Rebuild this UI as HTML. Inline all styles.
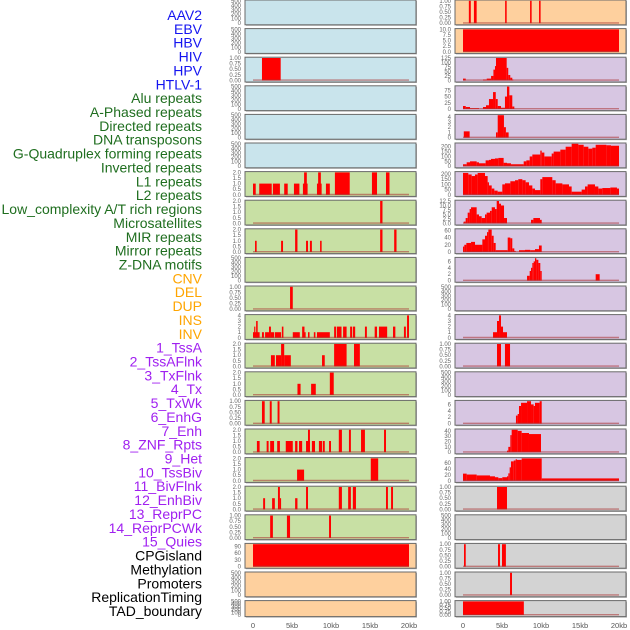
<!DOCTYPE html>
<html><head><meta charset="utf-8"><style>
html,body{margin:0;padding:0;background:#fff;}
svg{display:block;font-family:"Liberation Sans",sans-serif;}
</style></head><body>
<svg id="chart" width="630" height="630" viewBox="0 0 630 630" xmlns="http://www.w3.org/2000/svg"></svg>
<script>
// ---- data ----
const labelTexts = ["AAV2","EBV","HBV","HIV","HPV","HTLV-1","Alu repeats","A-Phased repeats","Directed repeats","DNA transposons","G-Quadruplex forming repeats","Inverted repeats","L1 repeats","L2 repeats","Low_complexity A/T rich regions","Microsatellites","MIR repeats","Mirror repeats","Z-DNA motifs","CNV","DEL","DUP","INS","INV","1_TssA","2_TssAFlnk","3_TxFlnk","4_Tx","5_TxWk","6_EnhG","7_Enh","8_ZNF_Rpts","9_Het","10_TssBiv","11_BivFlnk","12_EnhBiv","13_ReprPC","14_ReprPCWk","15_Quies","CPGisland","Methylation","Promoters","ReplicationTiming","TAD_boundary"];
const labelGroups = [0,0,0,0,0,0,1,1,1,1,1,1,1,1,1,1,1,1,1,2,2,2,2,2,3,3,3,3,3,3,3,3,3,3,3,3,3,3,3,4,4,4,4,4];
const xTicksKb = [0,5,10,15,20];
const xTickLabels = ["0","5kb","10kb","15kb","20kb"];
const T500 = [0,100,200,300,400,500];
const T1 = [0,0.25,0.5,0.75,1];
const T2 = [0,0.5,1,1.5,2];
const T4 = [0,1,2,3,4];
const leftBg = [0,0,0,0,0,0,1,1,1,1,1,1,1,1,1,1,1,1,1,2,2,2];
const rightBg = [2,2,3,3,3,3,3,3,3,3,3,3,3,3,3,3,3,4,4,4,4,4];
const leftMax = [500,500,1,500,500,500,2,2,2,500,1,4,2,2,1,2,2,2,1,100,500,500];
const rightMax = [1,10,125,90,4.3,230,215,12.5,62,7,500,4,1,500,7,42,75,1,500,1,1,1];
const leftTicks = [T500,T500,T1,T500,T500,T500,T2,T2,T2,T500,T1,T4,T2,T2,T1,T2,T2,T2,T1,[0,30,60,90],T500,T500];
const rightTicks = [T1,[0,2.5,5,7.5,10],[0,25,50,75,100,125],[0,25,50,75],T4,[0,50,100,150,200],[0,50,100,150,200],[0,2.5,5,7.5,10,12.5],[0,20,40,60],[0,2,4,6],T500,T4,T1,T500,[0,2,4,6],[0,10,20,30,40],[0,20,40,60],T1,T500,T1,T1,T1];
// bars: [startKb, endKb, value]
const leftBars = [
 [],[],
 [[1.15,3.55,1]],
 [],[],[],
 [[0,0.35,1],[0.8,2.4,1],[2.55,3.45,1],[4.0,4.45,1],[5.25,5.95,1],[6.4,7.0,1],[6.55,6.9,2],[8.2,8.8,1],[8.35,8.7,2],[9.35,9.85,1],[10.5,12.4,2],[15.25,15.9,2],[17.05,17.5,2]],
 [[16.3,16.6,2]],
 [[0.26,0.47,1],[3.6,3.85,1],[5.4,5.7,2],[6.8,7.05,1],[7.3,7.55,1],[8.6,8.8,1],[16.3,16.6,2],[18.1,18.4,2]],
 [],
 [[4.75,5.1,1]],
 [[0,0.85,1],[0.15,0.3,2],[0.4,0.6,3],[1.15,1.4,1],[1.55,2.05,1],[2.05,2.3,2],[2.3,2.7,1],[2.8,3.6,1],[3.7,3.9,2],[5.1,6.0,1],[6.3,6.6,2],[6.6,6.75,1],[7.05,7.25,1],[7.8,8.0,1],[8.2,9.85,1],[10.4,10.65,2],[10.75,11.35,2],[11.55,12.0,2],[12.45,12.7,2],[12.8,13.1,2],[14.35,14.6,2],[15.6,15.9,2],[16.15,17.2,2],[17.95,18.25,2],[19.35,19.6,2],[19.75,20.0,4]],
 [[2.3,2.8,1],[2.95,3.6,1],[3.6,4.0,2],[4.0,4.85,1],[8.85,9.2,1],[10.4,12.0,2],[12.95,13.7,2]],
 [[5.7,6.1,1],[7.45,8.05,1],[9.85,10.35,2]],
 [[1.15,1.5,1],[2.15,2.4,1],[3.15,3.4,1]],
 [[0.5,0.85,1],[1.75,2.0,1],[2.2,2.7,1],[3.1,3.45,1],[4.2,5.1,1],[5.4,5.7,1],[5.9,6.3,1],[6.8,7.3,1],[7.05,7.3,2],[7.55,7.95,1],[8.45,8.85,1],[8.95,9.2,1],[9.75,10.0,1],[11.0,11.4,2],[12.3,12.55,2],[13.85,14.35,2],[16.8,17.05,2]],
 [[5.65,6.55,1],[15.1,16.05,2]],
 [[1.3,1.55,1],[2.45,2.8,1],[3.2,3.45,2],[3.45,3.6,1],[5.4,5.7,1],[6.8,7.05,2],[11.0,11.4,2],[12.2,12.55,2],[12.8,13.2,2],[17.05,17.3,2],[17.7,17.95,2]],
 [[2.2,2.55,1],[4.35,4.75,1],[9.75,10.0,1]],
 [[0,20,100]],
 [],[]
];
const rightBars = [
 [[0.75,1.0,1],[1.4,1.75,1],[5.4,5.6,1],[8.6,8.8,1],[9.75,9.95,1]],
 [[0,20,10]],
 [[0,0.35,10],[2.56,3.04,5],[3.04,3.6,10],[3.6,3.9,25],[3.9,4.1,60],[4.1,4.23,80],[4.23,5.6,125],[5.6,5.8,70],[5.8,6.06,30],[6.06,6.32,15],[6.32,6.45,5]],
 [[0,0.35,12],[0.35,0.9,8],[0.9,2.05,3],[2.56,2.95,8],[2.95,3.33,15],[3.33,3.85,40],[3.85,4.2,68],[4.2,4.45,40],[4.45,4.87,12],[4.87,5.38,5],[5.38,5.64,50],[5.64,5.94,90],[5.94,6.32,55],[6.32,6.58,10]],
 [[0.1,0.85,1.2],[4.23,4.45,1],[4.45,5.25,4.3],[5.25,5.5,2],[5.5,5.85,1]],
 [[0,0.47,20],[0.47,0.9,40],[0.9,1.75,50],[1.75,2.05,40],[2.05,2.9,30],[2.9,3.33,60],[3.33,3.59,65],[3.59,4.1,75],[4.1,4.53,80],[4.53,5.21,85],[5.21,5.64,35],[5.64,6.15,30],[6.15,7.78,20],[7.78,8.12,50],[8.12,8.55,60],[8.55,8.89,100],[8.89,9.91,120],[9.91,10.09,160],[10.09,10.43,140],[10.43,11.37,100],[11.37,11.62,130],[11.62,12.48,150],[12.48,13.16,170],[13.16,13.93,200],[13.93,14.79,230],[14.79,15.47,220],[15.47,16.07,200],[16.07,16.58,180],[16.58,17.01,190],[17.01,18.38,220],[18.38,18.97,215],[18.97,20.0,210]],
 [[0,0.68,210],[0.68,1.11,195],[1.11,1.54,180],[1.54,1.88,195],[1.88,2.82,210],[2.82,3.16,180],[3.16,3.33,120],[3.33,3.68,90],[3.68,4.02,60],[4.02,4.44,40],[4.44,5.04,30],[5.04,5.38,100],[5.38,6.07,110],[6.07,6.67,130],[6.67,7.09,140],[7.09,7.61,150],[7.61,8.03,140],[8.03,8.46,120],[8.46,8.89,90],[8.89,9.23,60],[9.23,9.91,45],[9.91,10.17,150],[10.17,11.45,170],[11.45,11.88,140],[11.88,12.74,110],[12.74,13.59,100],[13.59,13.93,80],[13.93,15.21,30],[15.21,15.64,50],[15.64,15.98,80],[15.98,16.92,100],[16.92,17.35,80],[17.35,17.86,60],[17.86,18.89,65],[18.89,19.74,70],[19.74,20.0,60]],
 [[0.09,0.34,1],[0.34,0.6,3],[0.6,0.85,6],[0.85,1.03,8],[1.03,1.75,9],[1.75,2.05,5],[2.05,2.39,4],[2.39,2.82,3],[2.82,3.03,5],[3.03,3.46,6],[3.46,3.68,7],[3.68,4.1,9],[4.1,4.32,8],[4.32,4.62,12.5],[4.62,4.87,11],[4.87,5.26,10],[5.26,5.64,3],[8.72,9.02,2],[9.02,9.87,3],[9.87,10.09,2]],
 [[0,0.17,15],[0.17,0.43,20],[0.43,1.03,25],[1.03,1.54,28],[1.54,2.48,20],[2.48,2.82,35],[2.82,3.08,45],[3.08,3.25,55],[3.25,3.68,62],[3.68,3.93,45],[3.93,4.19,25],[4.19,5.73,5],[5.73,6.07,40],[6.07,6.32,38],[6.32,6.58,10],[6.58,6.75,3],[7.18,7.95,5],[7.95,8.63,6],[8.63,9.23,5],[9.23,9.74,8],[9.74,10.09,18]],
 [[8.21,8.55,1.5],[8.55,8.72,3],[8.72,8.89,4],[8.89,9.06,5.5],[9.06,9.23,6],[9.23,9.4,7],[9.4,9.66,6.5],[9.66,9.91,5.5],[9.91,10.09,3],[17.01,17.52,2]],
 [],
 [[3.85,4.36,1],[4.36,4.62,3],[4.62,4.87,4],[4.87,5.13,2],[5.13,5.64,1]],
 [[4.36,4.87,1],[5.38,6.03,1]],
 [],
 [[6.79,7.01,2.5],[7.01,7.18,3],[7.18,7.44,5.5],[7.44,8.21,6.5],[8.21,8.72,7],[8.72,9.06,6],[9.06,9.23,5.5],[9.23,9.83,6.5],[9.83,10.09,7]],
 [[5.64,5.81,3],[5.81,6.07,10],[6.07,6.24,32],[6.24,7.01,42],[7.01,7.52,40],[7.52,8.46,36],[8.46,10.0,34]],
 [[0,0.47,24],[0.47,1.75,21],[1.75,3.46,18],[3.46,4.1,15],[4.1,4.53,12],[4.53,5.04,9],[5.04,5.64,12],[5.64,5.81,15],[5.81,5.98,25],[5.98,6.15,45],[6.15,6.5,65],[6.5,6.75,68],[6.75,6.92,72],[6.92,7.52,70],[7.52,10.09,75],[10.09,20.0,8]],
 [[4.36,5.64,1]],
 [],
 [[0.13,0.35,1],[4.49,4.74,1],[5.0,5.5,1]],
 [[6.03,6.28,1]],
 [[0,7.8,1]]
];
// ---- layout ----
const svg = document.getElementById('chart');
const NS = 'http://www.w3.org/2000/svg';
const labelColors = ['#1414f0','#1f6e1f','#ffa500','#a020f0','#000000'];
const bgColors = ['#c9e4ec','#c8e0a4','#fed09e','#d7c6e2','#d3d3d3'];
function el(tag, attrs){const e=document.createElementNS(NS,tag);for(const k in attrs)e.setAttribute(k,attrs[k]);return e;}
labelTexts.forEach((t,i)=>{
  const tx = el('text',{x:202,y:20+i*13.86,'text-anchor':'end','font-size':'14',fill:labelColors[labelGroups[i]]});
  
  
  tx.textContent = t;
  svg.appendChild(tx);
});
const cols = [
 {x0:245,x1:416,d0:253,d1:409,bars:leftBars,max:leftMax,ticks:leftTicks,bg:leftBg,name:'left'},
 {x0:455,x1:626,d0:463,d1:619,bars:rightBars,max:rightMax,ticks:rightTicks,bg:rightBg,name:'right'}
];
function fmt(v,ticks){
  const mx=ticks[ticks.length-1];
  if(mx===1) return v.toFixed(2);
  if(ticks.some(t=>t%1!==0)) return v.toFixed(1);
  return String(v);
}
cols.forEach(c=>{
  const xs = kb => c.d0 + (c.d1-c.d0)*kb/20;
  for(let r=0;r<22;r++){
    const y0 = r*28.6, h = (r===21?16:24.8);
    const g = el('g',{});
    
    
    svg.appendChild(g);
    g.appendChild(el('rect',{x:c.x0+1,y:y0+1,width:c.x1-c.x0,height:h,fill:'#b0b0b0'}));
    g.appendChild(el('rect',{x:c.x0,y:y0,width:c.x1-c.x0,height:h,fill:bgColors[c.bg[r]],stroke:'#6a6a6a','stroke-width':1}));
    const base = y0+h-1.6, top = y0+0.8, mx=c.max[r];
    const ys = v => base - (base-top)*v/mx;
    const bars = c.bars[r];
    bars.forEach(b=>{
      const rc = el('rect',{x:xs(b[0]),y:ys(b[2]),width:Math.max(0.8,xs(b[1])-xs(b[0])),height:base-ys(b[2]),fill:'#ff0000'});
      
      
      g.appendChild(rc);
    });
    if(bars.length) g.appendChild(el('line',{x1:xs(0),x2:xs(20),y1:base-0.3,y2:base-0.3,stroke:'rgba(170,50,50,0.55)','stroke-width':1.4}));
    const tk = c.ticks[r];
    const tscale = (mx===500)? (v=> base-(base-top)*v/500) : ys;
    tk.forEach(v=>{
      const t = el('text',{x:c.x0-4,y:tscale(v)+2,'text-anchor':'end','font-size':'6','fill':'#666'});
      
      
      t.textContent = fmt(v,tk);
      g.appendChild(t);
    });
  }
  xTicksKb.forEach((k,i)=>{
    const t = el('text',{x:xs(k),y:628,'text-anchor':'middle','font-size':'7.5',fill:'#555'});
    
    
    t.textContent = xTickLabels[i];
    svg.appendChild(t);
  });
});
</script>
</body></html>
